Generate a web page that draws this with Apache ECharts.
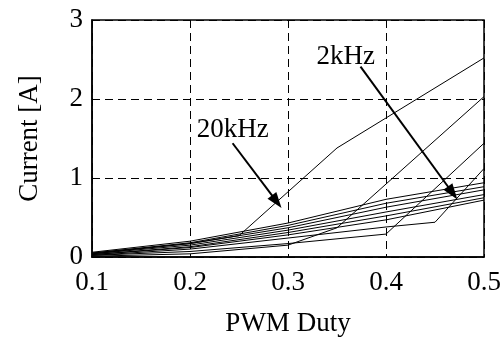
<!DOCTYPE html>
<html>
<head>
<meta charset="utf-8">
<script src="https://cdn.jsdelivr.net/npm/echarts@6/dist/echarts.min.js"></script>
<style>
  html, body { margin: 0; padding: 0; background: #fff; }
  #chart { width: 503px; height: 339px; }
</style>
</head>
<body>
<div id="chart"></div>
<script>
// duty points and current [A]
const dutyBundle = [0.1, 0.2, 0.3, 0.4, 0.5];
const cur2k  = [0.06, 0.20, 0.43, 0.73, 0.94];
const cur4k  = [0.05, 0.18, 0.40, 0.68, 0.89];
const cur6k  = [0.05, 0.17, 0.37, 0.63, 0.85];
const cur8k  = [0.04, 0.15, 0.34, 0.57, 0.79];
const cur10k = [0.03, 0.13, 0.31, 0.52, 0.75];
const cur12k = [0.03, 0.12, 0.28, 0.47, 0.72];

const duty14k = [0.1, 0.2, 0.3, 0.4, 0.45, 0.5];
const cur14k  = [0.02, 0.10, 0.24, 0.38, 0.44, 1.12];
const duty16k = [0.1, 0.2, 0.3, 0.4, 0.5];
const cur16k  = [0.02, 0.07, 0.17, 0.29, 1.44];
const duty18k = [0.1, 0.2, 0.3, 0.35, 0.5];
const cur18k  = [0.01, 0.04, 0.15, 0.37, 2.03];
const duty20k = [0.1, 0.2, 0.25, 0.35, 0.5];
const cur20k  = [0.04, 0.17, 0.27, 1.38, 2.52];

// annotation arrows: [from, to] in data units
const arrow20k = [[0.2435, 1.44], [0.2885, 0.70]];
const arrow2k  = [[0.374, 2.41], [0.468, 0.81]];
const label20k = [0.2435, 1.61];
const label2k  = [0.359, 2.53];

const FONT = '"Liberation Serif", "DejaVu Serif", serif';
const FS = 27;

function pairs(xs, ys) {
  return xs.map((x, i) => [x, ys[i]]);
}

const lines = [
  pairs(dutyBundle, cur2k), pairs(dutyBundle, cur4k), pairs(dutyBundle, cur6k),
  pairs(dutyBundle, cur8k), pairs(dutyBundle, cur10k), pairs(dutyBundle, cur12k),
  pairs(duty14k, cur14k), pairs(duty16k, cur16k), pairs(duty18k, cur18k),
  pairs(duty20k, cur20k)
];

const series = lines.map(d => ({
  type: 'line',
  data: d,
  symbol: 'none',
  silent: true,
  lineStyle: { color: '#000', width: 1 }
}));

// arrows + labels drawn as a blank series carrying markLine / markPoint
series.push({
  type: 'line',
  data: [],
  markLine: {
    silent: true,
    symbol: ['none', 'triangle'],
    symbolSize: [11, 16],
    label: { show: false },
    lineStyle: { color: '#000', width: 2, type: 'solid' },
    emphasis: { disabled: true },
    data: [
      [{ coord: arrow20k[0] }, { coord: arrow20k[1] }],
      [{ coord: arrow2k[0] }, { coord: arrow2k[1] }]
    ]
  },
  markPoint: {
    silent: true,
    symbol: 'rect',
    symbolSize: 1,
    itemStyle: { color: 'rgba(0,0,0,0)' },
    label: {
      show: true, position: 'inside', color: '#000',
      fontFamily: FONT, fontSize: FS
    },
    data: [
      { coord: label20k, value: '20kHz', label: { formatter: '20kHz' } },
      { coord: label2k, value: '2kHz', label: { formatter: '2kHz' } }
    ]
  }
});

const chart = echarts.init(document.getElementById('chart'));
chart.setOption({
  animation: false,
  backgroundColor: '#fff',
  grid: {
    left: 92, right: 19, top: 20, bottom: 82,
    containLabel: false, outerBoundsMode: 'none',
    show: true, borderColor: '#000', borderWidth: 1.5
  },
  xAxis: {
    type: 'value', min: 0.1, max: 0.5, interval: 0.1,
    name: 'PWM Duty', nameLocation: 'middle', nameGap: 53,
    nameTextStyle: { color: '#000', fontFamily: FONT, fontSize: FS },
    axisLine: { lineStyle: { color: '#000', width: 1.5 } },
    axisTick: { show: false },
    axisLabel: {
      color: '#000', fontFamily: FONT, fontSize: FS, margin: 12,
      formatter: v => v.toFixed(1)
    },
    splitLine: { show: true, lineStyle: { color: '#000', width: 1, type: [8, 5] } }
  },
  yAxis: {
    type: 'value', min: 0, max: 3, interval: 1,
    name: 'Current [A]', nameLocation: 'middle', nameGap: 49, nameRotate: 90,
    nameTextStyle: { color: '#000', fontFamily: FONT, fontSize: FS },
    axisLine: { show: true, lineStyle: { color: '#000', width: 1.5 } },
    axisTick: { show: true, inside: true, length: 5, lineStyle: { color: '#000' } },
    axisLabel: { color: '#000', fontFamily: FONT, fontSize: FS, margin: 9 },
    splitLine: { show: true, lineStyle: { color: '#000', width: 1, type: [8, 5] } }
  },
  series: series
});
</script>
</body>
</html>
